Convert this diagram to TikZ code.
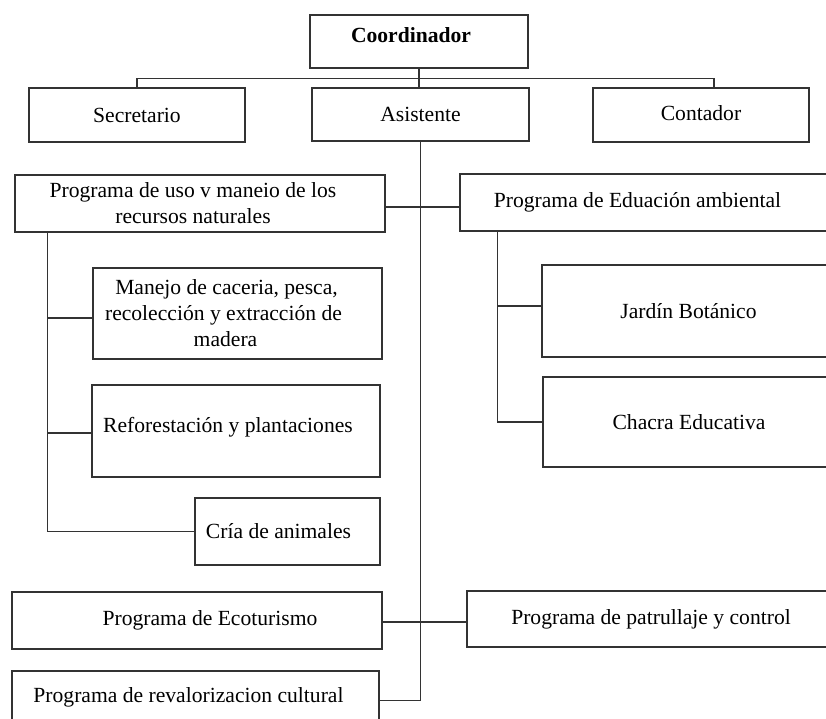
\documentclass[tikz,border=0pt]{standalone}
\usepackage{fontspec}
\setmainfont{Liberation Serif}
\newcommand{\shiftx}[2]{\hspace*{#1}#2\hspace*{-#1}}
\begin{document}
\begin{tikzpicture}[x=1pt,y=-1pt,
  box/.style={draw=black!80, line width=1.4pt, rectangle, inner sep=0pt, align=center,
    font=\fontsize{21.6}{26}\selectfont},
  conn/.style={draw=black!80, line width=1.4pt}]
\useasboundingbox (0,0) rectangle (826,719);
% top level
\node[box, minimum width=218, minimum height=53] (coord) at (419,41.5)
  {\raisebox{6pt}[\height][\depth]{\bfseries\shiftx{-8pt}{Coordinador}}};
\node[box, minimum width=216, minimum height=54] (sec) at (137,115) {Secretario};
\node[box, minimum width=217, minimum height=53] (asis) at (420.5,114.5) {Asistente};
\node[box, minimum width=216, minimum height=54] (cont) at (701,115) {\raisebox{2pt}[\height][\depth]{Contador}};
% programs
\node[box, minimum width=370, minimum height=57] (uso) at (200,203.5)
  {\shiftx{-7pt}{Programa de uso v maneio de los}\\\shiftx{-7pt}{recursos naturales}};
\node[box, minimum width=289, minimum height=91] (manejo) at (237.5,313.5)
  {\shiftx{-11pt}{Manejo de caceria, pesca,}\\\shiftx{-28pt}{recolección y extracción de}\\\shiftx{-12pt}{madera}};
\node[box, minimum width=288, minimum height=92] (ref) at (236,431)
  {\raisebox{4pt}[\height][\depth]{\shiftx{-8pt}{Reforestación y plantaciones}}};
\node[box, minimum width=185, minimum height=67] (cria) at (287.5,531.5)
  {\shiftx{-9pt}{Cría de animales}};
\node[box, minimum width=370, minimum height=57] (eco) at (197,620.5)
  {\shiftx{13pt}{Programa de Ecoturismo}};
\node[box, minimum width=367, minimum height=59] (reval) at (195.5,700.5)
  {\raisebox{3pt}[\height][\depth]{\shiftx{-7pt}{Programa de revalorizacion cultural}}};
\node[box, minimum width=375, minimum height=57] (educ) at (647.5,202.5)
  {\shiftx{-10pt}{Programa de Eduación ambiental}};
\node[box, minimum width=293, minimum height=92] (jardin) at (688.5,311) {Jardín Botánico};
\node[box, minimum width=292, minimum height=90] (chacra) at (689,422) {Chacra Educativa};
\node[box, minimum width=368, minimum height=56] (patr) at (651,619) {Programa de patrullaje y control};
% connectors
\coordinate (hub) at ([yshift=-10pt]coord.south);
\draw[conn] (coord.south) -- (coord.south |- asis.north);
\draw[conn] (sec.north) |- (hub) -| ([xshift=13pt]cont.north);
\draw[conn] (asis.south) |- (reval.east);
\draw[conn] ([yshift=-3.5pt]uso.east) -- ([yshift=-4.5pt]educ.west);
\draw[conn] ([yshift=-1.5pt]eco.east) -- ([yshift=-3pt]patr.west);
\coordinate (lv) at ([xshift=33pt]uso.south west);
\draw[conn] (lv) |- (cria.west);
\draw[conn] ([yshift=-4.5pt]manejo.west) -- ([yshift=-4.5pt]manejo.west -| lv);
\draw[conn] ([yshift=-2pt]ref.west) -- ([yshift=-2pt]ref.west -| lv);
\coordinate (rv) at ([xshift=38pt]educ.south west);
\draw[conn] (rv) |- (chacra.west);
\draw[conn] ([yshift=5pt]jardin.west) -- ([yshift=5pt]jardin.west -| rv);
\end{tikzpicture}
\end{document}
